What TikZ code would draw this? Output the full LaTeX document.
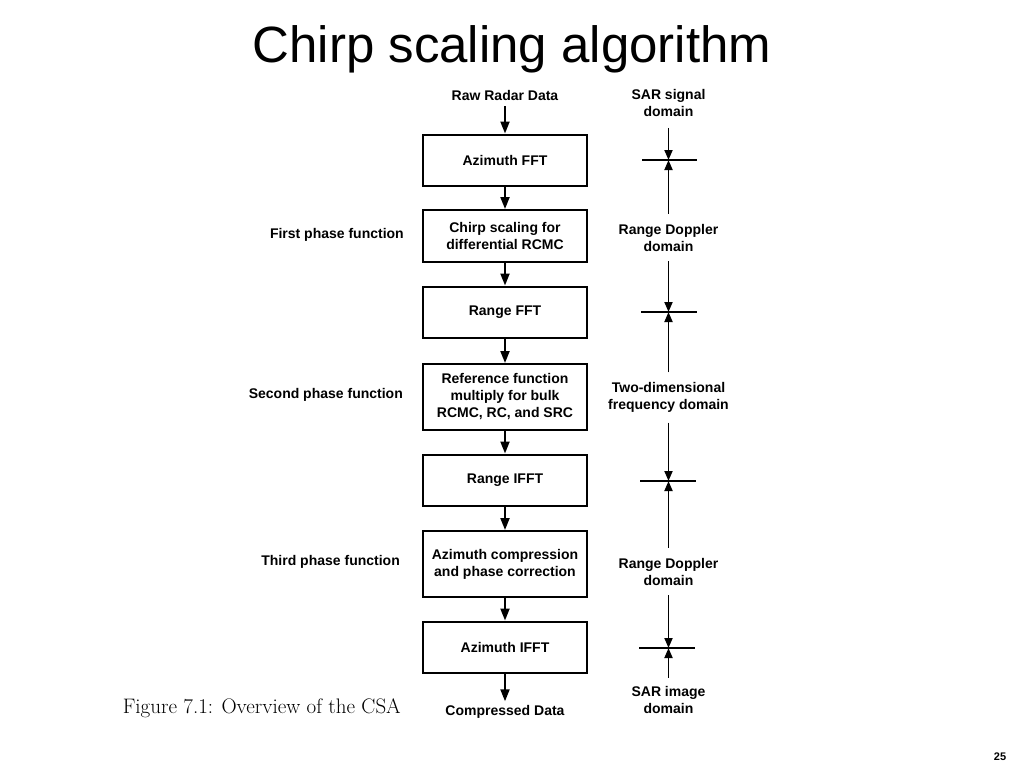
\documentclass[tikz,border=0pt]{standalone}
\usepackage{fontspec}
\newfontfamily\arial{Liberation Sans}
\usetikzlibrary{arrows.meta}
\begin{document}
\begin{tikzpicture}[x=1pt,y=-1pt,
  txt/.style={font=\arial\bfseries\fontsize{14}{17}\selectfont, align=center, inner sep=2pt},
  box/.style={txt, draw, line width=2pt, minimum width=164pt, minimum height=51pt},
  tallbox/.style={box, minimum height=66pt},
  flow/.style={line width=2pt, -{Triangle[length=12pt,width=9pt]}},
  dom/.style={line width=1.8pt, -{Triangle[length=10pt,width=8pt]}},
  tick/.style={line width=1.8pt}
]
\useasboundingbox (0,0) rectangle (1024,768);
\node[font=\arial\fontsize{51}{60}\selectfont, anchor=base] (title) at (512,63) {Chirp scaling algorithm};

\node[txt] (raw) at (505,95) {Raw Radar Data};
\node[box] (b1) at (505,160) {Azimuth FFT};
\node[box, minimum height=52pt] (b2) at (505,236) {Chirp scaling for\\differential RCMC};
\node[box] (b3) at (505,312) {Range FFT};
\node[tallbox] (b4) at (505,397) {Reference function\\multiply for bulk\\RCMC, RC, and SRC};
\node[box] (b5) at (505,480) {Range IFFT};
\node[tallbox] (b6) at (505,564) {Azimuth compression\\and phase correction};
\node[box] (b7) at (505,647) {Azimuth IFFT};
\node[txt] (out) at (505,712) {Compressed Data};

\draw[flow, shorten <=4pt] (raw) -- (b1);
\draw[flow] (b1) -- (b2);
\draw[flow] (b2) -- (b3);
\draw[flow] (b3) -- (b4);
\draw[flow] (b4) -- (b5);
\draw[flow] (b5) -- (b6);
\draw[flow] (b6) -- (b7);
\draw[flow, shorten >=2pt] (b7) -- (out);

\node[txt, anchor=east] (p1) at (406,235) {First phase function};
\node[txt, anchor=east] (p2) at (405,395) {Second phase function};
\node[txt, anchor=east] (p3) at (402,562) {Third phase function};
\node[font=\rmfamily\fontsize{21}{24}\selectfont, anchor=base east, inner sep=0pt] (cap) at (401,713) {Figure 7.1: Overview of the CSA};

\node[txt] (d0) at (668.5,103) {SAR signal\\domain};
\node[txt] (d1) at (668.5,237.5) {Range Doppler\\domain};
\node[txt] (d2) at (668.5,397.5) {Two-dimensional\\frequency domain};
\node[txt] (d3) at (668.5,571.5) {Range Doppler\\domain};
\node[txt] (d4) at (668.5,699.5) {SAR image\\domain};

\coordinate (t1) at (668.5,160);
\coordinate (t2) at (668.5,312);
\coordinate (t3) at (668.5,481);
\coordinate (t4) at (668.5,648);
\coordinate (t1l) at (642,160); \coordinate (t1r) at (697,160);
\coordinate (t2l) at (641,312); \coordinate (t2r) at (697,312);
\coordinate (t3l) at (640,481); \coordinate (t3r) at (696,481);
\coordinate (t4l) at (639,648); \coordinate (t4r) at (695,648);

\draw[tick] (t1l) -- (t1r);
\draw[tick] (t2l) -- (t2r);
\draw[tick] (t3l) -- (t3r);
\draw[tick] (t4l) -- (t4r);

\draw[dom, shorten <=9pt] (d0.south) -- (t1);
\draw[dom, shorten <=8pt] (d1.north) -- (t1);
\draw[dom, shorten <=8pt] (d1.south) -- (t2);
\draw[dom, shorten <=8pt] (d2.north) -- (t2);
\draw[dom, shorten <=8pt] (d2.south) -- (t3);
\draw[dom, shorten <=8pt] (d3.north) -- (t3);
\draw[dom, shorten <=8pt] (d3.south) -- (t4);
\draw[dom, shorten <=6pt] (d4.north) -- (t4);

\node[font=\arial\bfseries\fontsize{11}{13}\selectfont, anchor=base] (pg) at (1000,760) {25};
\end{tikzpicture}
\end{document}
